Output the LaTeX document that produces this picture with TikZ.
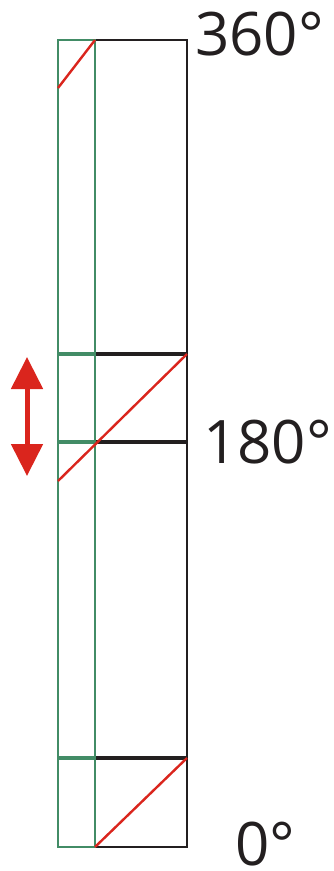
\documentclass[tikz,border=0pt]{standalone}
\usepackage{fontspec}
\setsansfont{Open Sans}
\usetikzlibrary{arrows.meta}
\definecolor{phgreen}{RGB}{66,140,102}
\definecolor{phred}{RGB}{218,37,29}
\definecolor{phblack}{RGB}{35,31,32}
\tikzset{
	frame/.style={draw=phblack, line width=2.4pt},
	gframe/.style={draw=phgreen, line width=2.8pt},
	mark line/.style={draw=phblack, line width=4pt},
	gmark line/.style={draw=phgreen, line width=4pt},
	phase/.style={draw=phred, line width=2.4pt},
	deg/.style={font=\sffamily\fontsize{60}{60}\selectfont, text=phblack, inner sep=0pt}
}
\begin{document}
\begin{tikzpicture}[x=1pt, y=-1pt]
	\useasboundingbox (0, 0) rectangle (334, 871) ;
		\coordinate (tl) at (58, 40) ; 
		\coordinate (tm) at (95, 40) ; 
		\coordinate (tr) at (187, 40) ; 
		\coordinate (bl) at (58, 847) ; 
		\coordinate (bm) at (95, 847) ; 
		\coordinate (br) at (187, 847) ; 
	% black part
	\draw[frame] (tm) -- (tr) -- (br) -- (bm) ;
	% marks
	\draw[mark line] (95, 354) -- (187, 354) ;
	\draw[mark line] (95, 442) -- (187, 442) ;
	\draw[mark line] (95, 758) -- (187, 758) ;
	\draw[gmark line] (58, 354) -- (95, 354) ;
	\draw[gmark line] (58, 442) -- (95, 442) ;
	\draw[gmark line] (58, 758) -- (95, 758) ;
	% green part
	\draw[gframe] (tm) -- (tl) -- (bl) -- (bm) -- cycle ;
	% phase lines
	\draw[phase] (58, 88) -- (tm) ;
	\draw[phase] (58, 481) -- (187, 354) ;
	\draw[phase] (bm) -- (187, 758) ;
		\coordinate (up) at (27, 357) ; 
		\coordinate (dn) at (27, 476) ; 
	\draw[phred, line width=5pt, {Triangle[length=32pt, width=31pt]}-{Triangle[length=32pt, width=31pt]}] (up) -- (dn) ;
		\node (d360)[deg, anchor=base west] at (195, 55) {360°} ; 
		\node (d180)[deg, anchor=base west] at (203, 463) {180°} ; 
		\node (d0)[deg, anchor=base west] at (235, 865) {0°} ; 
\end{tikzpicture}
\end{document}
